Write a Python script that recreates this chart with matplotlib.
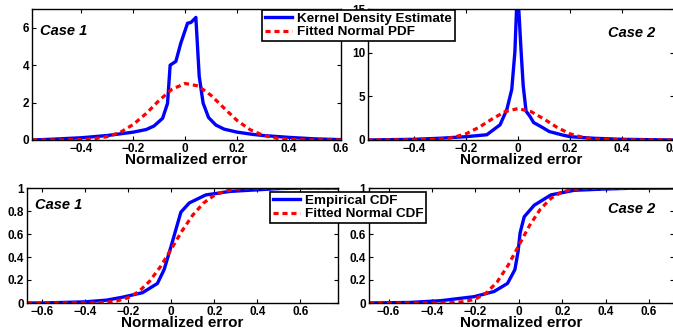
import matplotlib
matplotlib.use("Agg")
import matplotlib.pyplot as plt
from matplotlib.ticker import FuncFormatter

plt.rcParams['font.family'] = ['Liberation Sans', 'DejaVu Sans']
plt.rcParams['font.weight'] = 'bold'

# ---- data ----
# case 1 pdf
kde1_x = [-0.59, -0.5, -0.4, -0.3, -0.2, -0.15, -0.12, -0.087, -0.068, -0.058, -0.036,
          -0.017, 0.009, 0.022, 0.038, 0.041, 0.054, 0.069, 0.09, 0.118, 0.15, 0.2,
          0.26, 0.3, 0.4, 0.5, 0.6]
kde1_y = [0.0, 0.05, 0.12, 0.24, 0.42, 0.56, 0.75, 1.16, 1.96, 4.0, 4.2,
          5.17, 6.24, 6.28, 6.5, 6.55, 3.4, 1.97, 1.2, 0.8, 0.58, 0.42,
          0.3, 0.24, 0.14, 0.06, 0.02]
fit1_x = [-0.59, -0.5, -0.4, -0.35, -0.3, -0.25, -0.2, -0.15, -0.1, -0.05, 0.0,
          0.05, 0.1, 0.15, 0.2, 0.25, 0.3, 0.35, 0.4, 0.5, 0.6]
fit1_y = [0.0, 0.0, 0.02, 0.07, 0.18, 0.41, 0.83, 1.42, 2.12, 2.72, 3.02,
          2.89, 2.38, 1.70, 1.04, 0.55, 0.25, 0.10, 0.03, 0.0, 0.0]

# case 2 pdf
kde2_x = [-0.58, -0.4, -0.3, -0.2, -0.12, -0.069, -0.043, -0.024, -0.012, -0.005,
          0.002, 0.012, 0.02, 0.031, 0.046, 0.06, 0.096, 0.12, 0.17, 0.2, 0.29, 0.4, 0.6]
kde2_y = [0.0, 0.08, 0.2, 0.38, 0.6, 1.74, 3.49, 5.8, 10.1, 15.5,
          15.5, 10.1, 6.2, 3.3, 2.7, 2.0, 1.4, 0.97, 0.58, 0.38, 0.2, 0.08, 0.0]
fit2_x = [-0.58, -0.4, -0.3, -0.25, -0.2, -0.15, -0.1, -0.05, 0.0,
          0.05, 0.1, 0.15, 0.2, 0.25, 0.3, 0.4, 0.6]
fit2_y = [0.0, 0.01, 0.09, 0.29, 0.71, 1.45, 2.40, 3.25, 3.6,
          3.25, 2.40, 1.45, 0.71, 0.29, 0.09, 0.01, 0.0]

# case 1 cdf
ecdf1_x = [-0.67, -0.6, -0.4, -0.3, -0.227, -0.133, -0.064, -0.033, -0.001, 0.025,
           0.045, 0.084, 0.161, 0.2, 0.27, 0.36, 0.5, 0.6, 0.78]
ecdf1_y = [0.0, 0.0, 0.01, 0.025, 0.05, 0.09, 0.17, 0.29, 0.49, 0.66,
           0.79, 0.87, 0.94, 0.95, 0.97, 0.98, 0.995, 1.0, 1.0]
fcdf1_x = [-0.67, -0.5, -0.4, -0.35, -0.3, -0.25, -0.2, -0.15, -0.1, -0.05, 0.0,
           0.05, 0.1, 0.15, 0.2, 0.25, 0.3, 0.35, 0.4, 0.5, 0.78]
fcdf1_y = [0.0, 0.0, 0.0005, 0.002, 0.0066, 0.019, 0.046, 0.10, 0.19, 0.316, 0.468,
           0.626, 0.764, 0.869, 0.936, 0.973, 0.990, 0.997, 0.999, 1.0, 1.0]

# case 2 cdf
ecdf2_x = [-0.69, -0.5, -0.36, -0.206, -0.114, -0.052, -0.018, -0.003, 0.006, 0.025,
           0.071, 0.148, 0.255, 0.38, 0.5, 0.72]
ecdf2_y = [0.0, 0.005, 0.02, 0.055, 0.1, 0.17, 0.29, 0.45, 0.61, 0.75,
           0.85, 0.94, 0.98, 0.99, 0.997, 1.0]
fcdf2_x = [-0.69, -0.4, -0.3, -0.25, -0.2, -0.15, -0.1, -0.05, 0.0,
           0.05, 0.1, 0.15, 0.2, 0.25, 0.3, 0.4, 0.72]
fcdf2_y = [0.0, 0.0001, 0.003, 0.012, 0.034, 0.087, 0.182, 0.325, 0.5,
           0.675, 0.818, 0.913, 0.966, 0.988, 0.997, 1.0, 1.0]

case_labels = ["Case 1", "Case 2"]

fig = plt.figure(figsize=(6.73, 3.31), dpi=100)

W, H = 673.0, 331.0


def make_ax(x0, x1, ytop, ybot):
    return fig.add_axes([x0 / W, 1 - ybot / H, (x1 - x0) / W, (ybot - ytop) / H])


fmt = FuncFormatter(lambda v, p: ("%g" % round(v, 3)).replace("-", "\u2212"))


def style(ax, xlim, ylim, xticks, yticks):
    ax.set_xlim(xlim)
    ax.set_ylim(ylim)
    ax.set_xticks(xticks)
    ax.set_yticks(yticks)
    ax.xaxis.set_major_formatter(fmt)
    ax.yaxis.set_major_formatter(fmt)
    ax.tick_params(direction='in', top=True, right=True, length=3, width=0.8,
                   labelsize=8.5, pad=2)
    for lab in ax.get_xticklabels() + ax.get_yticklabels():
        lab.set_fontweight('bold')
    for s in ax.spines.values():
        s.set_linewidth(1.0)
    ax.set_xlabel("Normalized error", fontsize=11, fontweight='bold', labelpad=-1)


blue = dict(color='#0000ff', lw=2.4, solid_joinstyle='round')
red = dict(color='#ff0000', lw=2.3, ls=(0, (1.6, 1.2)))
case_kw = dict(fontsize=10.5, fontweight='bold', style='italic', va='center')

ax1 = make_ax(32, 341, 9, 140)
k1, = ax1.plot(kde1_x, kde1_y, **blue)
f1, = ax1.plot(fit1_x, fit1_y, **red)
style(ax1, (-0.59, 0.6), (0, 7), [-0.4, -0.2, 0, 0.2, 0.4, 0.6], [0, 2, 4, 6])
ax1.text(0.025, 0.835, case_labels[0], transform=ax1.transAxes, **case_kw)

ax2 = make_ax(368, 674, 9, 140)
ax2.plot(kde2_x, kde2_y, **blue)
ax2.plot(fit2_x, fit2_y, **red)
style(ax2, (-0.577, 0.6), (0, 15), [-0.4, -0.2, 0, 0.2, 0.4, 0.6], [0, 5, 10, 15])
ax2.text(0.785, 0.82, case_labels[1], transform=ax2.transAxes, **case_kw)

ax3 = make_ax(27, 338, 188, 303)
e1, = ax3.plot(ecdf1_x, ecdf1_y, **blue)
c1, = ax3.plot(fcdf1_x, fcdf1_y, **red)
style(ax3, (-0.67, 0.775), (0, 1), [-0.6, -0.4, -0.2, 0, 0.2, 0.4, 0.6],
      [0, 0.2, 0.4, 0.6, 0.8, 1])
ax3.text(0.025, 0.85, case_labels[0], transform=ax3.transAxes, **case_kw)

ax4 = make_ax(369, 674, 188, 303)
ax4.plot(ecdf2_x, ecdf2_y, **blue)
ax4.plot(fcdf2_x, fcdf2_y, **red)
style(ax4, (-0.69, 0.715), (0, 1), [-0.6, -0.4, -0.2, 0, 0.2, 0.4, 0.6],
      [0, 0.2, 0.4, 0.6, 0.8, 1])
ax4.text(0.785, 0.82, case_labels[1], transform=ax4.transAxes, **case_kw)

leg_kw = dict(fontsize=9.7, frameon=True, fancybox=False, edgecolor='black',
              framealpha=1, handlelength=2.0, handletextpad=0.4, borderpad=0.2,
              labelspacing=0.05, borderaxespad=0)
lg1 = fig.legend([k1, f1], ["Kernel Density Estimate", "Fitted Normal PDF"],
                 loc='upper left', bbox_to_anchor=(262 / W, 1 - 10 / H), **leg_kw)
lg1.get_frame().set_linewidth(1.2)
lg2 = fig.legend([e1, c1], ["Empirical CDF", "Fitted Normal CDF"],
                 loc='upper left', bbox_to_anchor=(270 / W, 1 - 192 / H), **leg_kw)
lg2.get_frame().set_linewidth(1.2)
for lg in (lg1, lg2):
    for t in lg.get_texts():
        t.set_fontweight('bold')

fig.savefig("out.png", dpi=100)
